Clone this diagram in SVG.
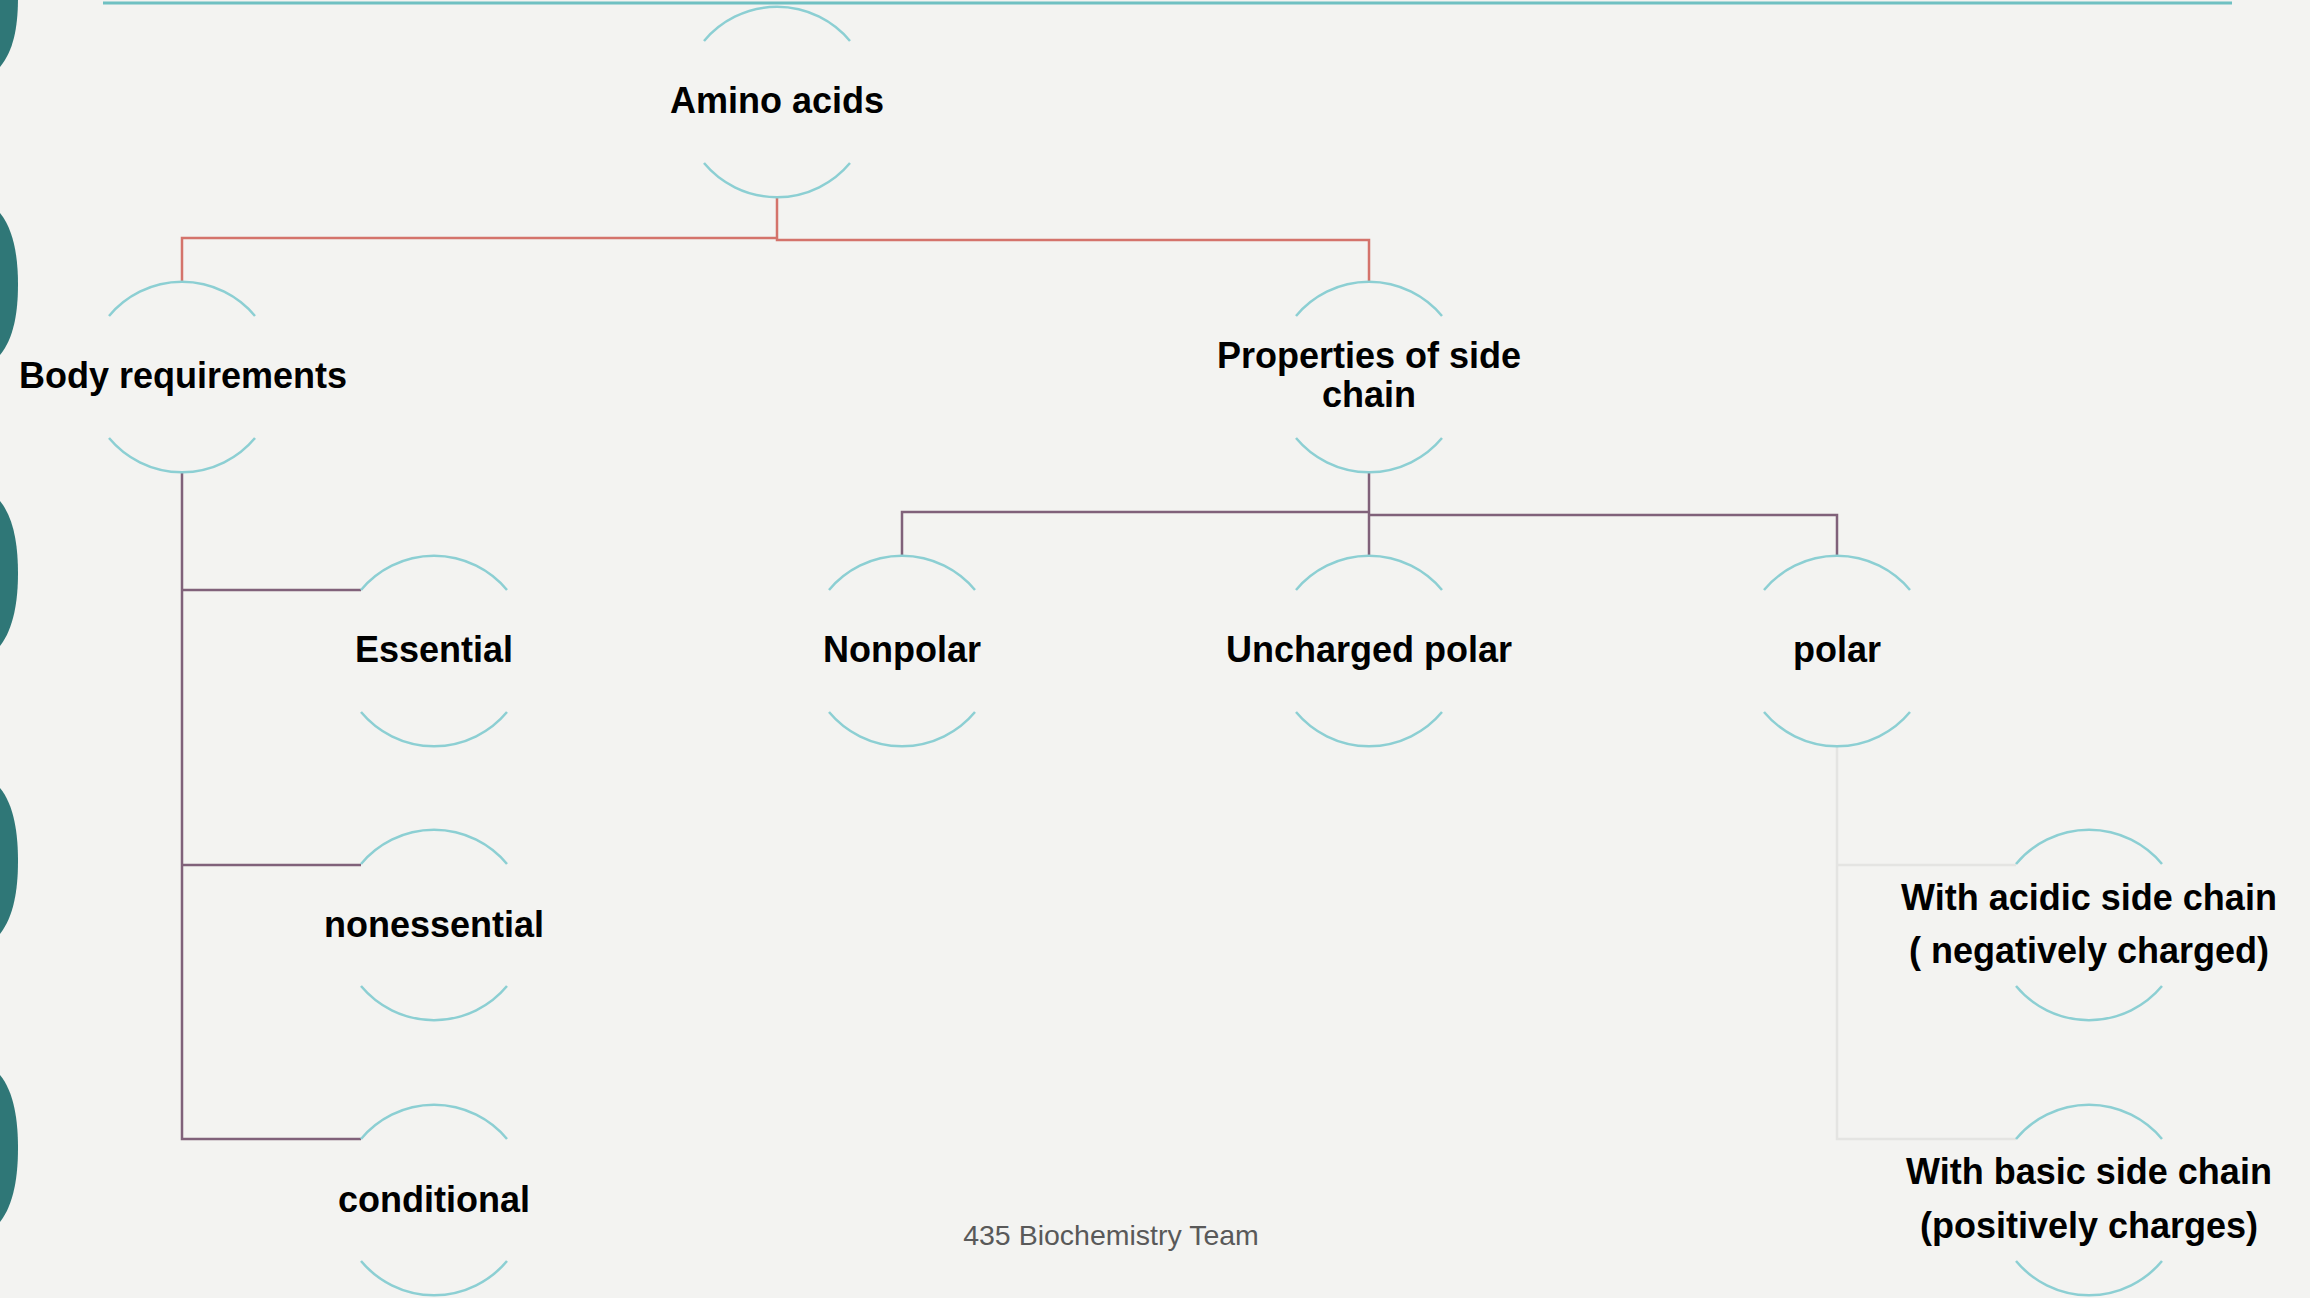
<svg xmlns="http://www.w3.org/2000/svg" width="2310" height="1298" viewBox="0 0 2310 1298">
<style>
.bg{fill:#f3f3f1}
.arc{fill:none;stroke:#8ccfd3;stroke-width:2.5}
.lbl{font-family:"Liberation Sans",Arial,sans-serif;font-weight:bold;font-size:36px;fill:#000;text-anchor:middle}
.red{fill:none;stroke:#d4736b;stroke-width:2.5}
.pur{fill:none;stroke:#80617a;stroke-width:2.5}
.gry{fill:none;stroke:#e4e4e2;stroke-width:2.5}
.wave{fill:#2f7777}
.foot{font-family:"Liberation Sans",Arial,sans-serif;font-size:28.5px;fill:#595959;text-anchor:middle}
</style>
<defs>
<g id="ring">
<path class="arc" d="M-73,-61 A95,95 0 0 1 73,-61"/>
<path class="arc" d="M-73,61 A95,95 0 0 0 73,61"/>
</g>
</defs>
<rect class="bg" x="0" y="0" width="2310" height="1298"/>
<g id="waves">
<path class="wave" d="M0,-75 C14,-58 18,-30 18,-3 C18,26 14,50 0,67 Z"/>
<path class="wave" d="M0,213 C14,230 18,258 18,284 C18,312 14,338 0,355 Z"/>
<path class="wave" d="M0,501 C14,518 18,546 18,573 C18,600 14,628 0,646 Z"/>
<path class="wave" d="M0,788 C14,805 18,833 18,861 C18,889 14,916 0,934 Z"/>
<path class="wave" d="M0,1075 C14,1092 18,1120 18,1148 C18,1176 14,1204 0,1222 Z"/>
</g>
<line x1="103" y1="3" x2="2232" y2="3" stroke="#6fc0c2" stroke-width="3"/>
<g id="connectors">
<path class="red" d="M777,197 V240 H1369 V282"/>
<path class="red" d="M777,238 H182 V282"/>
<path class="pur" d="M1369,472 V556"/>
<path class="pur" d="M1369,512 H902 V556"/>
<path class="pur" d="M1369,515 H1837 V556"/>
<path class="pur" d="M182,472 V1139 H361"/>
<path class="pur" d="M182,590 H361"/>
<path class="pur" d="M182,865 H361"/>
<path class="gry" d="M1837,746 V1139 H2016"/>
<path class="gry" d="M1837,865 H2016"/>
</g>
<g id="node-amino-acids">
<use href="#ring" x="777" y="102"/>
<text class="lbl" x="777" y="113">Amino acids</text>
</g>
<g id="node-body-requirements">
<use href="#ring" x="182" y="377"/>
<text class="lbl" x="183" y="388">Body requirements</text>
</g>
<g id="node-properties">
<use href="#ring" x="1369" y="377"/>
<text class="lbl" x="1369" y="368">Properties of side</text>
<text class="lbl" x="1369" y="407">chain</text>
</g>
<g id="node-essential">
<use href="#ring" x="434" y="651"/>
<text class="lbl" x="434" y="662">Essential</text>
</g>
<g id="node-nonessential">
<use href="#ring" x="434" y="925"/>
<text class="lbl" x="434" y="937">nonessential</text>
</g>
<g id="node-conditional">
<use href="#ring" x="434" y="1200"/>
<text class="lbl" x="434" y="1212">conditional</text>
</g>
<g id="node-nonpolar">
<use href="#ring" x="902" y="651"/>
<text class="lbl" x="902" y="662">Nonpolar</text>
</g>
<g id="node-uncharged-polar">
<use href="#ring" x="1369" y="651"/>
<text class="lbl" x="1369" y="662">Uncharged polar</text>
</g>
<g id="node-polar">
<use href="#ring" x="1837" y="651"/>
<text class="lbl" x="1837" y="662">polar</text>
</g>
<g id="node-acidic">
<use href="#ring" x="2089" y="925"/>
<text class="lbl" x="2089" y="910">With acidic side chain</text>
<text class="lbl" x="2089" y="963">( negatively charged)</text>
</g>
<g id="node-basic">
<use href="#ring" x="2089" y="1200"/>
<text class="lbl" x="2089" y="1184">With basic side chain</text>
<text class="lbl" x="2089" y="1238">(positively charges)</text>
</g>
<text class="foot" x="1111" y="1245">435 Biochemistry Team</text>
</svg>
